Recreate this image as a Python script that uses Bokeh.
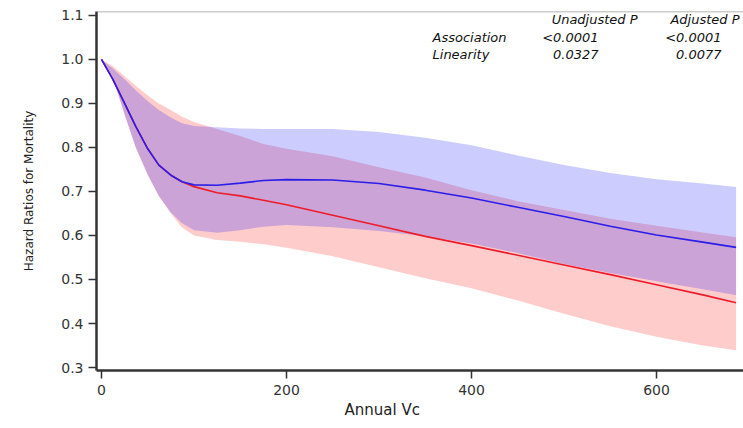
from bokeh.plotting import figure
from bokeh.models import Range1d, FixedTicker, Label, Span, PrintfTickFormatter, Title
from bokeh.embed import file_html
from bokeh.resources import INLINE

# ---- data ----
vc = [0, 12, 25, 37, 50, 62, 75, 87, 100, 125, 150, 175, 200, 250, 300, 350,
      400, 450, 500, 550, 600, 650, 686]

hr_unadj = [1.0, 0.956, 0.900, 0.848, 0.797, 0.760, 0.737, 0.722, 0.711, 0.697,
            0.690, 0.680, 0.670, 0.646, 0.622, 0.598, 0.577, 0.555, 0.533, 0.511,
            0.488, 0.465, 0.447]
lo_unadj = [1.0, 0.960, 0.875, 0.800, 0.738, 0.690, 0.650, 0.618, 0.600, 0.590,
            0.586, 0.580, 0.572, 0.553, 0.528, 0.503, 0.480, 0.452, 0.422, 0.394,
            0.370, 0.350, 0.339]
hi_unadj = [1.0, 0.985, 0.962, 0.940, 0.918, 0.900, 0.885, 0.870, 0.858, 0.842,
            0.826, 0.808, 0.797, 0.780, 0.755, 0.732, 0.703, 0.678, 0.658, 0.638,
            0.622, 0.607, 0.596]

hr_adj = [1.0, 0.956, 0.900, 0.848, 0.797, 0.760, 0.737, 0.722, 0.715, 0.714,
          0.719, 0.725, 0.727, 0.726, 0.718, 0.703, 0.685, 0.664, 0.643, 0.621,
          0.601, 0.585, 0.573]
lo_adj = [1.0, 0.960, 0.875, 0.800, 0.738, 0.690, 0.652, 0.628, 0.612, 0.606,
          0.612, 0.620, 0.624, 0.619, 0.610, 0.598, 0.582, 0.560, 0.535, 0.515,
          0.496, 0.478, 0.464]
hi_adj = [1.0, 0.980, 0.955, 0.930, 0.905, 0.885, 0.868, 0.855, 0.849, 0.846,
          0.843, 0.842, 0.842, 0.842, 0.835, 0.822, 0.805, 0.782, 0.760, 0.742,
          0.728, 0.718, 0.710]

y_ticks = [0.3, 0.4, 0.5, 0.6, 0.7, 0.8, 0.9, 1.0, 1.1]
x_ticks = [0, 200, 400, 600]

table_header = ["Unadjusted P", "Adjusted P"]
table_rows = ["Association", "Linearity"]
table_unadj = ["<0.0001", "0.0327"]
table_adj = ["<0.0001", "0.0077"]

# ---- figure ----
p = figure(width=743, height=428, output_backend="svg", toolbar_location=None,
           x_range=Range1d(-5.4, 694), y_range=Range1d(0.2932, 1.109),
           min_border_left=96, min_border_right=0, min_border_top=11,
           min_border_bottom=58)
p.outline_line_color = None
p.xgrid.visible = False
p.ygrid.visible = False
p.background_fill_color = "white"

p.varea(x=vc, y1=lo_unadj, y2=hi_unadj, fill_color="#ff0000", fill_alpha=0.2)
p.varea(x=vc, y1=lo_adj, y2=hi_adj, fill_color="#0000ff", fill_alpha=0.2)
p.line(vc, hr_unadj, line_color="#ee1c2a", line_width=1.6)
p.line(vc, hr_adj, line_color="#2a1ee8", line_width=1.6)

# top frame line
p.add_layout(Span(location=1.109, dimension="width", line_color="#9a9a9a",
                  line_width=1.5))

for ax in (p.xaxis[0], p.yaxis[0]):
    ax.axis_line_color = "#333333"
    ax.axis_line_width = 2.5
    ax.major_tick_line_color = "#333333"
    ax.major_tick_line_width = 1.5
    ax.major_tick_out = 8
    ax.major_tick_in = 0
    ax.minor_tick_line_color = None
    ax.major_label_text_font = "DejaVu Sans"
    ax.major_label_text_font_size = "14px"
    ax.major_label_text_color = "#333333"

p.yaxis.ticker = FixedTicker(ticks=y_ticks)
p.yaxis.formatter = PrintfTickFormatter(format="%.1f")
p.xaxis.ticker = FixedTicker(ticks=x_ticks)
p.yaxis.major_label_standoff = 5
p.xaxis.major_label_standoff = 6

p.yaxis.axis_label = "Hazard Ratios for Mortality"
p.yaxis.axis_label_text_font = "DejaVu Sans"
p.yaxis.axis_label_text_font_style = "normal"
p.yaxis.axis_label_text_font_size = "12px"
p.yaxis.axis_label_text_color = "#222222"
p.yaxis.axis_label_standoff = 22

# x axis title, under the visible part of the frame
p.add_layout(Title(text="Annual Vc", align="left", offset=248,
                   text_font="DejaVu Sans", text_font_style="normal",
                   text_font_size="15px", text_color="#222222",
                   standoff=2), "below")

# p-value table
def px2x(px):
    return (px - 101) * 200.0 / 185.0

def py2y(py):
    return 1.0 - (py - 59) / 440.0

tf = dict(text_font="DejaVu Sans", text_font_style="italic",
          text_font_size="13px", text_color="#111111", text_baseline="middle")
p.add_layout(Label(x=px2x(637), y=py2y(19), text=table_header[0], text_align="right", **tf))
p.add_layout(Label(x=px2x(739), y=py2y(19), text=table_header[1], text_align="right", **tf))
for i, (name, u, a) in enumerate(zip(table_rows, table_unadj, table_adj)):
    yy = py2y(37 + 17 * i)
    p.add_layout(Label(x=px2x(432), y=yy, text=name, text_align="left", **tf))
    p.add_layout(Label(x=px2x(598), y=yy, text=u, text_align="right", **tf))
    p.add_layout(Label(x=px2x(721), y=yy, text=a, text_align="right", **tf))

open("out.html", "w").write(file_html(p, INLINE))
